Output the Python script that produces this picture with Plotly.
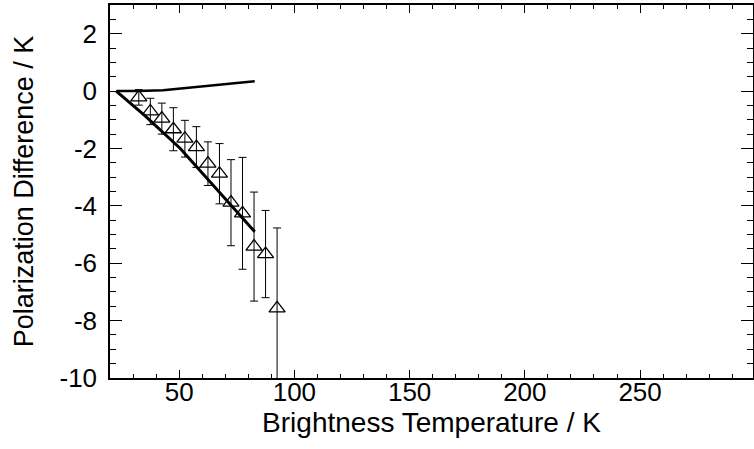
import plotly.graph_objects as go

# Observed points (triangles with error bars)
tb_obs = [32.5, 37.5, 42.5, 47.5, 52.5, 57.5, 62.5, 67.5, 72.5, 77.5, 82.5, 87.5, 92.5]
pd_obs = [-0.22, -0.71, -0.96, -1.33, -1.66, -1.95, -2.53, -2.88, -3.89, -4.26, -5.42, -5.68, -7.57]
pd_err = [0.27, 0.46, 0.54, 0.75, 0.64, 0.71, 0.76, 1.05, 1.50, 1.95, 1.90, 1.52, 2.80]

# Model curve (lower, thick)
tb_model_low = [22.7, 35.0, 50.5, 63.5, 82.8]
pd_model_low = [0.0, -0.85, -2.0, -3.17, -4.9]

# Model curve (upper)
tb_model_up = [22.7, 32.0, 43.0, 57.4, 70.6, 82.8]
pd_model_up = [0.0, 0.0, 0.03, 0.14, 0.23, 0.34]

# Tick labels
x_tickvals = [50, 100, 150, 200, 250]
x_ticktext = ["50", "100", "150", "200", "250"]
y_tickvals = [-10, -8, -6, -4, -2, 0, 2]
y_ticktext = ["-10", "-8", "-6", "-4", "-2", "0", "2"]

FONT = "Liberation Sans, Arial, sans-serif"

fig = go.Figure()
fig.add_trace(go.Scatter(x=tb_model_up, y=pd_model_up, mode="lines",
                         line=dict(color="black", width=2.5), showlegend=False))
fig.add_trace(go.Scatter(x=tb_model_low, y=pd_model_low, mode="lines",
                         line=dict(color="black", width=3), showlegend=False))
fig.add_trace(go.Scatter(x=tb_obs, y=pd_obs, mode="markers",
                         marker=dict(symbol="triangle-up-open", size=14, color="black",
                                     line=dict(width=1.3, color="black")),
                         error_y=dict(type="data", array=pd_err, visible=True,
                                      color="black", thickness=1, width=4),
                         showlegend=False, cliponaxis=True))

fig.update_layout(
    width=754, height=449,
    margin=dict(l=110, r=1, t=5, b=71),
    paper_bgcolor="white", plot_bgcolor="white",
    font=dict(family=FONT, color="black"),
)
fig.update_xaxes(
    range=[20, 299], showgrid=False, zeroline=False, automargin=False,
    showline=True, linecolor="black", linewidth=1.5, mirror="ticks",
    ticks="inside", ticklen=8, tickwidth=1, tickcolor="black",
    tickmode="array", tickvals=x_tickvals, ticktext=x_ticktext,
    ticklabelstandoff=-10,
    minor=dict(ticks="inside", ticklen=4, dtick=10, tick0=0, tickcolor="black", tickwidth=1),
    tickfont=dict(size=26, family=FONT),
    title=dict(text="Brightness Temperature / K", font=dict(size=28, family=FONT), standoff=0),
)
fig.update_yaxes(
    range=[-10, 3], showgrid=False, zeroline=False, automargin=False,
    showline=True, linecolor="black", linewidth=1.5, mirror="ticks",
    ticks="inside", ticklen=12, tickwidth=1, tickcolor="black",
    tickmode="array", tickvals=y_tickvals, ticktext=y_ticktext,
    ticklabelstandoff=6,
    minor=dict(ticks="inside", ticklen=6, dtick=0.5, tick0=0, tickcolor="black", tickwidth=1),
    tickfont=dict(size=26, family=FONT),
    title=dict(text="Polarization Difference / K", font=dict(size=27, family=FONT), standoff=18),
)

fig.write_html("out.html", config={"displayModeBar": False},
               post_script="document.body.style.margin='0';")
